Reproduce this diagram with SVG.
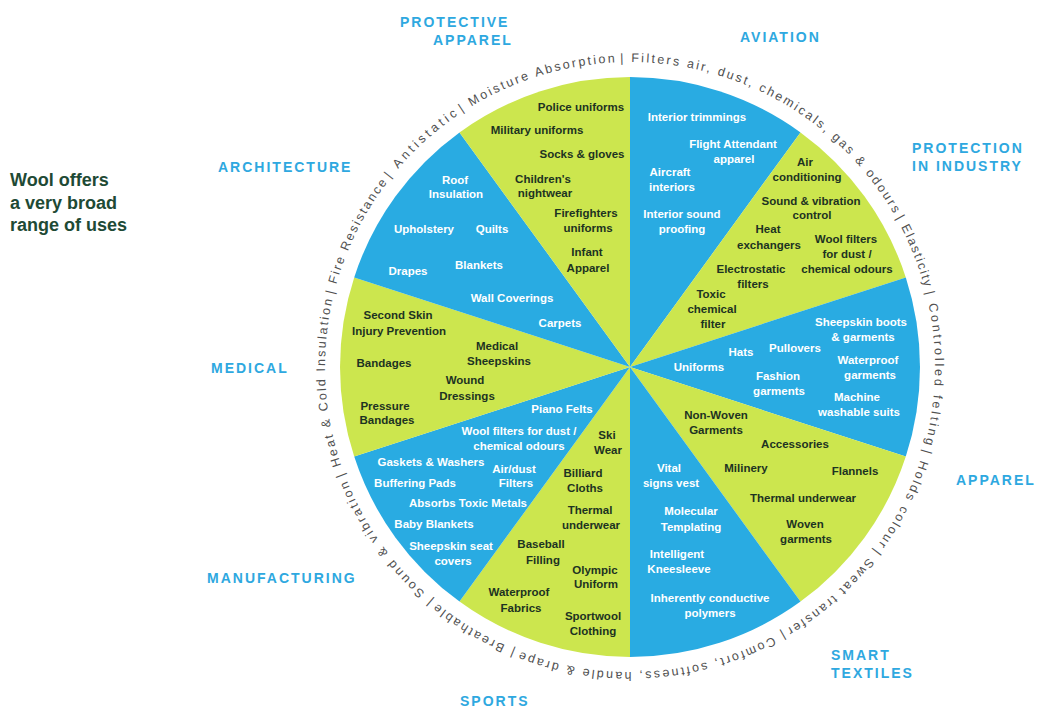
<svg xmlns="http://www.w3.org/2000/svg" xmlns:xlink="http://www.w3.org/1999/xlink" width="1037" height="709" viewBox="0 0 1037 709">
<style>
.b{fill:#29ABE2}
.g{fill:#CCE64E}
.tw{fill:#ffffff;font-family:"Liberation Sans",Arial,sans-serif;font-weight:bold;font-size:11.5px;text-anchor:middle}
.td{fill:#1d3322;font-family:"Liberation Sans",Arial,sans-serif;font-weight:bold;font-size:11.5px;text-anchor:middle}
.cat{fill:#2EA8E0;font-family:"Liberation Sans",Arial,sans-serif;font-weight:bold;font-size:14px;letter-spacing:2px}
.ring{fill:#505050;font-family:"Liberation Sans",Arial,sans-serif;font-size:12.5px}
.title{fill:#1E4A35;font-family:"Liberation Sans",Arial,sans-serif;font-weight:bold;font-size:18px}
</style>
<defs>
<path id="ringPath" d="M630,62 A305,305 0 1,1 630,672 A305,305 0 1,1 630,62 A305,305 0 1,1 630,672 A305,305 0 1,1 630,62" fill="none"/>
</defs>
<rect width="1037" height="709" fill="#ffffff"/>

<g id="title">
<text class="title" x="10" y="186">Wool offers</text>
<text class="title" x="10" y="209">a very broad</text>
<text class="title" x="10" y="231">range of uses</text>
</g>

<g id="ring">
<text class="ring"><textPath xlink:href="#ringPath" startOffset="1905.7" textLength="328" lengthAdjust="spacing">| Filters air, dust, chemicals, gas &amp; odours</textPath></text>
<text class="ring"><textPath xlink:href="#ringPath" startOffset="323.1" textLength="75" lengthAdjust="spacing">| Elasticity</textPath></text>
<text class="ring"><textPath xlink:href="#ringPath" startOffset="403.0" textLength="154" lengthAdjust="spacing">| Controlled felting</textPath></text>
<text class="ring"><textPath xlink:href="#ringPath" startOffset="562.1" textLength="106" lengthAdjust="spacing">| Holds colour</textPath></text>
<text class="ring"><textPath xlink:href="#ringPath" startOffset="673.4" textLength="120" lengthAdjust="spacing">| Sweat transfer</textPath></text>
<text class="ring"><textPath xlink:href="#ringPath" startOffset="797.9" textLength="272" lengthAdjust="spacing">| Comfort, softness, handle &amp; drape</textPath></text>
<text class="ring"><textPath xlink:href="#ringPath" startOffset="1075.3" textLength="91" lengthAdjust="spacing">| Breathable</textPath></text>
<text class="ring"><textPath xlink:href="#ringPath" startOffset="1171.1" textLength="149" lengthAdjust="spacing">| Sound &amp; vibration</textPath></text>
<text class="ring"><textPath xlink:href="#ringPath" startOffset="1325.5" textLength="179" lengthAdjust="spacing">| Heat &amp; Cold Insulation</textPath></text>
<text class="ring"><textPath xlink:href="#ringPath" startOffset="1509.7" textLength="125" lengthAdjust="spacing">| Fire Resistance</textPath></text>
<text class="ring"><textPath xlink:href="#ringPath" startOffset="1639.6" textLength="93" lengthAdjust="spacing">| Antistatic</textPath></text>
<text class="ring"><textPath xlink:href="#ringPath" startOffset="1737.5" textLength="163" lengthAdjust="spacing">| Moisture Absorption</textPath></text>
</g>

<g id="aviation">
<path class="b" d="M630,367 L630,77 A290,290 0 0,1 800.5,132.4 Z"/>
<text class="tw" x="697" y="121">Interior trimmings</text>
<text class="tw" x="733" y="148">Flight Attendant</text>
<text class="tw" x="734" y="163">apparel</text>
<text class="tw" x="670" y="176">Aircraft</text>
<text class="tw" x="672" y="191">interiors</text>
<text class="tw" x="682" y="218">Interior sound</text>
<text class="tw" x="682" y="233">proofing</text>
<text class="cat" x="740" y="42">AVIATION</text>
</g>

<g id="protection-industry">
<path class="g" d="M630,367 L800.5,132.4 A290,290 0 0,1 905.8,277.4 Z"/>
<text class="td" x="805" y="166">Air</text>
<text class="td" x="807" y="181">conditioning</text>
<text class="td" x="811" y="205">Sound &amp; vibration</text>
<text class="td" x="812" y="219">control</text>
<text class="td" x="768" y="233">Heat</text>
<text class="td" x="769" y="249">exchangers</text>
<text class="td" x="846" y="243">Wool filters</text>
<text class="td" x="847" y="258">for dust /</text>
<text class="td" x="847" y="273">chemical odours</text>
<text class="td" x="751" y="273">Electrostatic</text>
<text class="td" x="753" y="288">filters</text>
<text class="td" x="711" y="298">Toxic</text>
<text class="td" x="712" y="313">chemical</text>
<text class="td" x="713" y="328">filter</text>
<text class="cat" x="912" y="153">PROTECTION</text>
<text class="cat" x="912" y="171">IN INDUSTRY</text>
</g>

<g id="apparel">
<path class="b" d="M630,367 L905.8,277.4 A290,290 0 0,1 905.8,456.6 Z"/>
<path class="g" d="M630,367 L905.8,456.6 A290,290 0 0,1 800.5,601.6 Z"/>
<text class="tw" x="699" y="371">Uniforms</text>
<text class="tw" x="741" y="356">Hats</text>
<text class="tw" x="795" y="352">Pullovers</text>
<text class="tw" x="778" y="380">Fashion</text>
<text class="tw" x="779" y="395">garments</text>
<text class="tw" x="861" y="326">Sheepskin boots</text>
<text class="tw" x="863" y="341">&amp; garments</text>
<text class="tw" x="868" y="364">Waterproof</text>
<text class="tw" x="870" y="379">garments</text>
<text class="tw" x="857" y="401">Machine</text>
<text class="tw" x="859" y="416">washable suits</text>
<text class="td" x="716" y="419">Non-Woven</text>
<text class="td" x="716" y="434">Garments</text>
<text class="td" x="795" y="448">Accessories</text>
<text class="td" x="746" y="472">Milinery</text>
<text class="td" x="855" y="475">Flannels</text>
<text class="td" x="803" y="502">Thermal underwear</text>
<text class="td" x="805" y="528">Woven</text>
<text class="td" x="806" y="543">garments</text>
<text class="cat" x="956" y="485">APPAREL</text>
</g>

<g id="smart-textiles">
<path class="b" d="M630,367 L800.5,601.6 A290,290 0 0,1 630,657 Z"/>
<text class="tw" x="669" y="472">Vital</text>
<text class="tw" x="671" y="487">signs vest</text>
<text class="tw" x="691" y="515">Molecular</text>
<text class="tw" x="691" y="531">Templating</text>
<text class="tw" x="677" y="558">Intelligent</text>
<text class="tw" x="679" y="573">Kneesleeve</text>
<text class="tw" x="710" y="602">Inherently conductive</text>
<text class="tw" x="710" y="617">polymers</text>
<text class="cat" x="831" y="660">SMART</text>
<text class="cat" x="831" y="678">TEXTILES</text>
</g>

<g id="sports">
<path class="g" d="M630,367 L630,657 A290,290 0 0,1 459.5,601.6 Z"/>
<text class="td" x="607" y="439">Ski</text>
<text class="td" x="608" y="454">Wear</text>
<text class="td" x="583" y="477">Billiard</text>
<text class="td" x="585" y="492">Cloths</text>
<text class="td" x="590" y="514">Thermal</text>
<text class="td" x="591" y="529">underwear</text>
<text class="td" x="541" y="548">Baseball</text>
<text class="td" x="543" y="564">Filling</text>
<text class="td" x="595" y="574">Olympic</text>
<text class="td" x="596" y="588">Uniform</text>
<text class="td" x="519" y="596">Waterproof</text>
<text class="td" x="521" y="612">Fabrics</text>
<text class="td" x="593" y="620">Sportwool</text>
<text class="td" x="593" y="635">Clothing</text>
<text class="cat" x="460" y="706">SPORTS</text>
</g>

<g id="manufacturing">
<path class="b" d="M630,367 L459.5,601.6 A290,290 0 0,1 354.2,456.6 Z"/>
<text class="tw" x="562" y="413">Piano Felts</text>
<text class="tw" x="519" y="435">Wool filters for dust /</text>
<text class="tw" x="519" y="450">chemical odours</text>
<text class="tw" x="431" y="466">Gaskets &amp; Washers</text>
<text class="tw" x="514" y="473">Air/dust</text>
<text class="tw" x="516" y="487">Filters</text>
<text class="tw" x="415" y="487">Buffering Pads</text>
<text class="tw" x="468" y="507">Absorbs Toxic Metals</text>
<text class="tw" x="434" y="528">Baby Blankets</text>
<text class="tw" x="451" y="550">Sheepskin seat</text>
<text class="tw" x="453" y="565">covers</text>
<text class="cat" x="207" y="583">MANUFACTURING</text>
</g>

<g id="medical">
<path class="g" d="M630,367 L354.2,456.6 A290,290 0 0,1 354.2,277.4 Z"/>
<text class="td" x="398" y="319">Second Skin</text>
<text class="td" x="399" y="335">Injury Prevention</text>
<text class="td" x="384" y="367">Bandages</text>
<text class="td" x="497" y="350">Medical</text>
<text class="td" x="499" y="365">Sheepskins</text>
<text class="td" x="465" y="384">Wound</text>
<text class="td" x="467" y="400">Dressings</text>
<text class="td" x="385" y="410">Pressure</text>
<text class="td" x="387" y="424">Bandages</text>
<text class="cat" x="211" y="373">MEDICAL</text>
</g>

<g id="architecture">
<path class="b" d="M630,367 L354.2,277.4 A290,290 0 0,1 459.5,132.4 Z"/>
<text class="tw" x="455" y="184">Roof</text>
<text class="tw" x="456" y="198">Insulation</text>
<text class="tw" x="424" y="233">Upholstery</text>
<text class="tw" x="492" y="233">Quilts</text>
<text class="tw" x="408" y="275">Drapes</text>
<text class="tw" x="479" y="269">Blankets</text>
<text class="tw" x="512" y="302">Wall Coverings</text>
<text class="tw" x="560" y="327">Carpets</text>
<text class="cat" x="218" y="172">ARCHITECTURE</text>
</g>

<g id="protective-apparel">
<path class="g" d="M630,367 L459.5,132.4 A290,290 0 0,1 630,77 Z"/>
<text class="td" x="581" y="111">Police uniforms</text>
<text class="td" x="537" y="134">Military uniforms</text>
<text class="td" x="582" y="158">Socks &amp; gloves</text>
<text class="td" x="543" y="183">Children's</text>
<text class="td" x="545" y="197">nightwear</text>
<text class="td" x="586" y="217">Firefighters</text>
<text class="td" x="588" y="232">uniforms</text>
<text class="td" x="587" y="256">Infant</text>
<text class="td" x="588" y="272">Apparel</text>
<text class="cat" x="400" y="27">PROTECTIVE</text>
<text class="cat" x="433" y="45">APPAREL</text>
</g>

<g id="connectors"></g>
</svg>
